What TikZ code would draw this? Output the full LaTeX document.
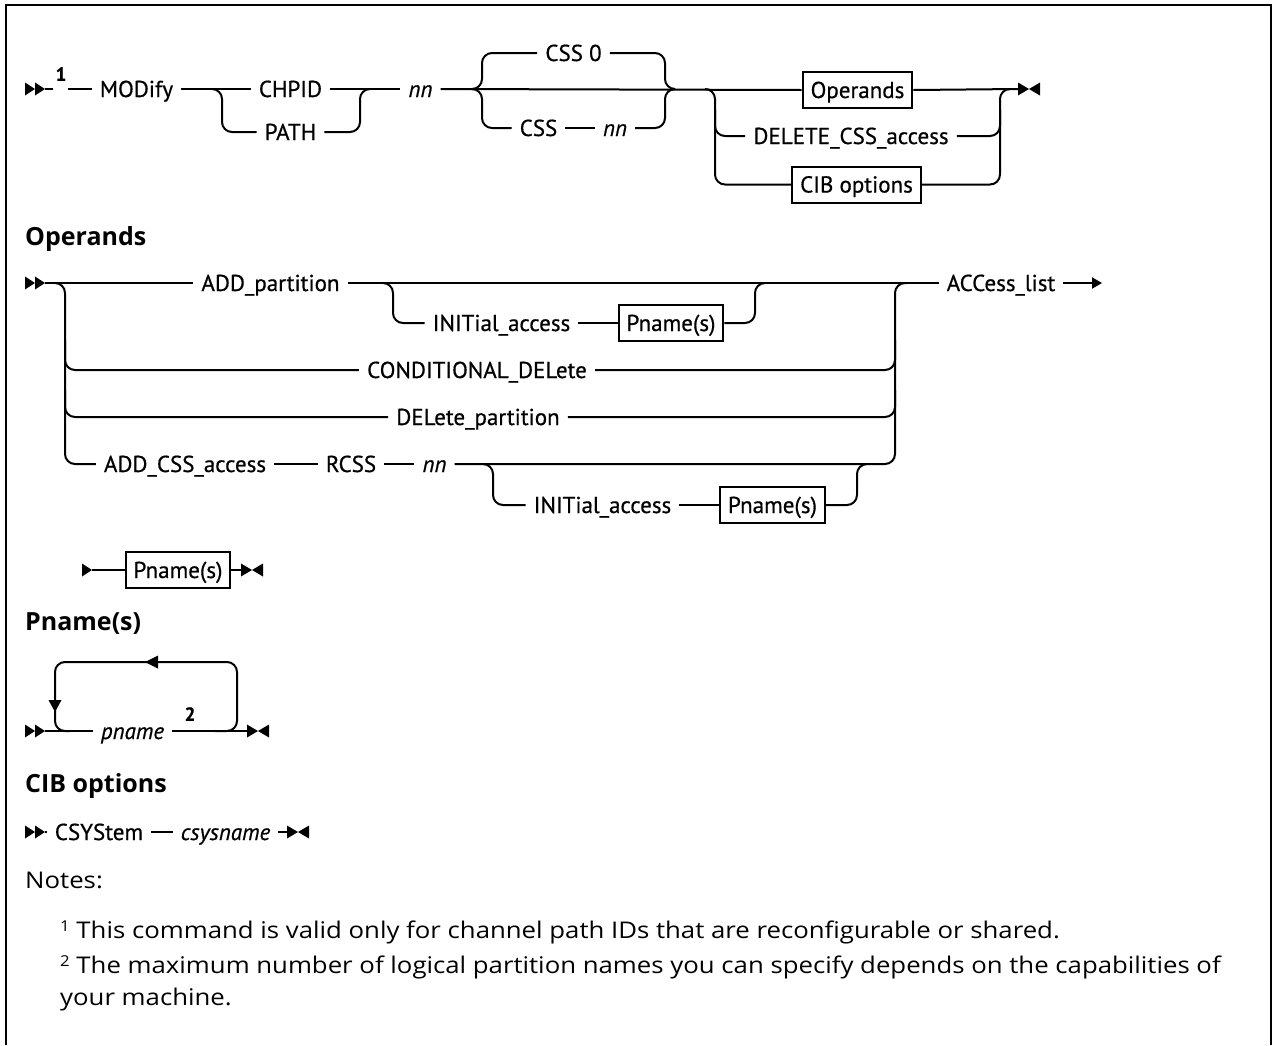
\documentclass[tikz,border=0pt]{standalone}
\usepackage{fontspec}
\setmainfont{Open Sans}
\newfontfamily\lblfont[FakeBold=0.6]{PT Sans}
\newfontfamily\notefont[FakeStretch=1.12]{Open Sans}
\usetikzlibrary{arrows.meta}
\tikzset{
  lbl/.style={font=\lblfont\fontsize{23}{27}\selectfont, inner xsep=8pt, inner ysep=0pt, text height=16pt, text depth=0pt, anchor=center},
  var/.style={lbl, font=\lblfont\itshape\fontsize{23}{27}\selectfont},
  box/.style={lbl, draw, line width=2pt, minimum height=36pt, inner xsep=8pt},
  supx/.style={font=\lblfont\bfseries\fontsize{19}{21}\selectfont, inner sep=0pt},
  ln/.style={line width=2pt, rounded corners=10pt},
  head/.style={font=\bfseries\fontsize{25}{29}\selectfont, anchor=base west, inner sep=0pt},
  note/.style={font=\notefont\fontsize{23}{27}\selectfont, anchor=base west, inner sep=0pt},
  frame/.style={line width=2.6pt},
  startsym/.pic={\fill (0,-6.5) -- (10,0) -- (0,6.5) -- cycle; \fill (10,-6.5) -- (20,0) -- (10,6.5) -- cycle;},
  onesym/.pic={\fill (0,-6.5) -- (10,0) -- (0,6.5) -- cycle;},
  endsym/.pic={\fill (0,-6.5) -- (11,0) -- (0,6.5) -- cycle; \fill (22,-6.5) -- (11,0) -- (22,6.5) -- cycle;}
}
\begin{document}
\begin{tikzpicture}[x=1pt,y=-1pt]
\useasboundingbox (0,0) rectangle (1274,1045);
\fill[white] (0,0) rectangle (1274,1045);
% frame
\draw[frame] (6,1045) -- (6,5) -- (1271,5) -- (1271,1045);

% ===== main row =====
\pic at (25,89) {startsym};
\coordinate (s1) at (45,89);
\coordinate (s1b) at (53,89);
\coordinate (s1c) at (68,89);
\draw[ln] (s1) -- (s1b);
\node[supx] (sup1) at (61,74) {1};
\node[lbl] (modify) at (136.5,89) {MODify};
\node[lbl] (chpid) at (290.5,89) {CHPID};
\node[lbl] (path) at (290.5,132) {PATH};
\node[var] (nn1) at (420.5,89) {nn};
\node[lbl] (css0) at (573.5,53) {CSS 0};
\node[lbl] (css) at (538.5,128) {CSS};
\node[var] (nn2) at (615,128) {nn};
\node[box] (opbox) at (857.5,90) {Operands};
\node[lbl] (delcss) at (851,136) {DELETE\_CSS\_access};
\node[box] (cibbox) at (856.5,184.5) {CIB options};
\coordinate (end1) at (1018,89);
\pic at (end1) {endsym};

\draw[ln] (s1c) -- (modify.west);
\draw[ln] (modify.east) -- (chpid.west);
\coordinate (j1a) at (212,89);
\coordinate (j1b) at (370,89);
\draw[ln] (j1a) -| (222,132) -- (path.west);
\draw[ln] (path.east) -| (360,89) -- (j1b);
\draw[ln] (chpid.east) -- (nn1.west);
\draw[ln] (nn1.east) -- (opbox.west);
\coordinate (j2a) at (473,89);
\coordinate (j2b) at (673,89);
\draw[ln] (j2a) -| (482,53) -- (css0.west);
\draw[ln] (css0.east) -| (665,89) -- (j2b);
\draw[ln] (j2a) -| (482,128) -- (css.west);
\draw[ln] (css.east) -- (nn2.west);
\draw[ln] (nn2.east) -| (665,89) -- (j2b);
\coordinate (j3a) at (705,89);
\coordinate (j3b) at (1010,89);
\draw[ln] (j3a) -| (715,184.5) -- (cibbox.west);
\draw[ln] (715,110) |- (delcss.west);
\draw[ln] (opbox.east) -- (end1);
\draw[ln] (cibbox.east) -| (1000,89) -- (j3b);
\draw[ln] (delcss.east) -| (1000,110);

% ===== Operands =====
\node[head] (hop) at (25,245) {Operands};
\pic at (25,283) {startsym};
\coordinate (s2) at (45,283);
\node[lbl] (addp) at (270.5,283) {ADD\_partition};
\node[lbl] (init1) at (501.5,323) {INITial\_access};
\node[box] (pn1) at (671,323) {Pname(s)};
\node[lbl] (cond) at (477,370) {CONDITIONAL\_DELete};
\node[lbl] (delp) at (478,417) {DELete\_partition};
\node[lbl] (addcss) at (185,464) {ADD\_CSS\_access};
\node[lbl] (rcss) at (351,464) {RCSS};
\node[var] (nn3) at (434.5,464) {nn};
\node[lbl] (init2) at (602.5,505) {INITial\_access};
\node[box] (pn2) at (772.5,505) {Pname(s)};
\node[lbl] (acc) at (1001,283) {ACCess\_list};
\coordinate (accend) at (1102,283);

\draw[ln] (s2) -- (addp.west);
\draw[ln] (55,283) -| (65,464) -- (addcss.west);
\draw[ln] (65,340) |- (cond.west);
\draw[ln] (65,390) |- (delp.west);
\draw[ln] (addp.east) -- (acc.west);
\draw[ln] (383,283) -| (393,323) -- (init1.west);
\draw[ln] (init1.east) -- (pn1.west);
\draw[ln] (pn1.east) -| (755,283) -- (765,283);
\draw[ln] (cond.east) -| (895,340);
\draw[ln] (delp.east) -| (895,390);
\draw[ln] (addcss.east) -- (rcss.west);
\draw[ln] (rcss.east) -- (nn3.west);
\draw[ln] (nn3.east) -| (895,283) -- (907,283);
\draw[ln] (483,464) -| (493,505) -- (init2.west);
\draw[ln] (init2.east) -- (pn2.west);
\draw[ln] (pn2.east) -| (857,464) -- (867,464);
\draw[line width=2pt, -{Triangle[length=10pt,width=11pt]}] (acc.east) -- (accend);

% ===== Pname(s) reference =====
\pic at (82,570) {onesym};
\coordinate (s3) at (92,570);
\node[box] (pn3) at (178,570) {Pname(s)};
\coordinate (end3) at (241,570);
\draw[ln] (s3) -- (pn3.west);
\draw[ln] (pn3.east) -- (end3);
\pic at (end3) {endsym};

% ===== Pname(s) loop =====
\node[head] (hpn) at (25,630) {Pname(s)};
\pic at (25,731) {startsym};
\coordinate (s4) at (45,731);
\node[var] (pname) at (132.5,731) {pname};
\node[supx] (sup2) at (190,714) {2};
\coordinate (end4) at (247,731);
\draw[ln] (s4) -- (pname.west);
\draw[ln] (pname.east) -- (end4);
\pic at (end4) {endsym};
\draw[ln] (215,731) -| (237,662) -| (55,731) -- (70,731);
\fill (145,662) -- (158,655.5) -- (158,668.5) -- cycle;
\fill (55,712) -- (48.5,700) -- (61.5,700) -- cycle;

% ===== CIB options =====
\node[head] (hcib) at (25,792) {CIB options};
\pic at (25,832) {startsym};
\coordinate (s5) at (45,832);
\node[lbl] (csys) at (99,832) {CSYStem};
\node[var] (csysn) at (225.5,832) {csysname};
\coordinate (end5) at (287,832);
\draw[ln] (s5) -- (csys.west);
\draw[ln] (csys.east) -- (csysn.west);
\draw[ln] (csysn.east) -- (end5);
\pic at (end5) {endsym};

% ===== Notes =====
\node[note] (notes) at (25,888) {Notes:};
\node[note] (n1) at (60,938) {\raisebox{7pt}{\fontsize{15}{15}\selectfont 1} This command is valid only for channel path IDs that are reconfigurable or shared.};
\node[note] (n2) at (60,973) {\raisebox{7pt}{\fontsize{15}{15}\selectfont 2} The maximum number of logical partition names you can specify depends on the capabilities of};
\node[note] (n3) at (60,1005) {your machine.};
\end{tikzpicture}
\end{document}
